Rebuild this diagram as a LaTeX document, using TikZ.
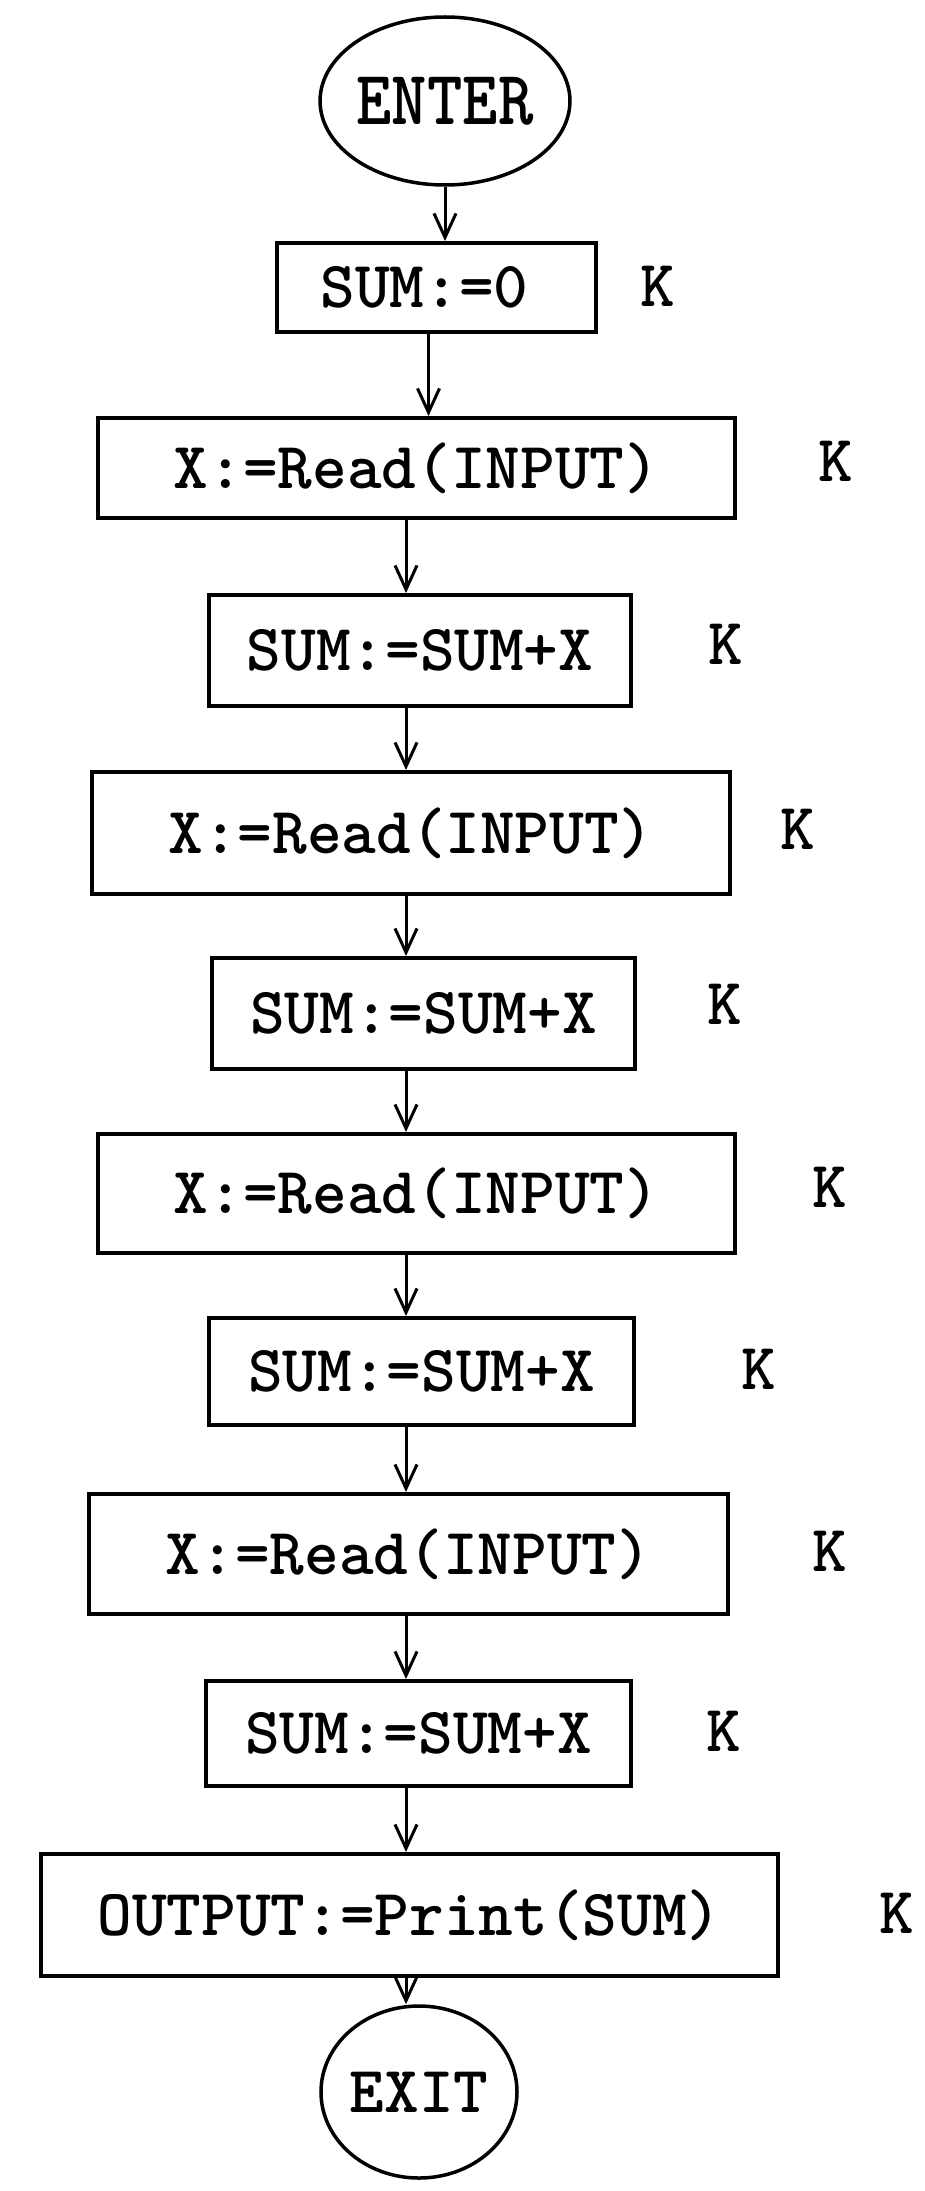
\documentclass[tikz,border=0pt]{standalone}
\usetikzlibrary{arrows.meta,shapes.geometric}
\newcommand\flowfont{\fontsize{66}{70}\selectfont\ttfamily\bfseries}
\tikzset{
  box/.style={draw, line width=4pt, inner sep=0pt, font=\flowfont},
  term/.style={draw, ellipse, line width=3.5pt, inner sep=0pt, font=\flowfont},
  cost/.style={font=\flowfont, inner sep=0pt},
  arr/.style={line width=3pt, -{Straight Barb[length=24pt,width=22pt,line width=3pt]}},
}
\begin{document}
\begin{tikzpicture}[x=1pt,y=-1pt]
  \useasboundingbox (0,0) rectangle (925,2191);

  % terminals
  \node[term, minimum width=208pt, minimum height=168pt] (enter) at (445,101)
       {\scalebox{1.02}[1.17]{ENTER}};
  \node[term, minimum width=168pt, minimum height=172pt] (exit) at (419,2092) {EXIT};

  % statement boxes
  \node[box, minimum width=319pt, minimum height=89pt]  (sum0)   at (436.5,287.5)  {\hspace*{-24pt}SUM:=0};
  \node[box, minimum width=637pt, minimum height=100pt] (read1)  at (416.5,468)    {X:=Read(INPUT)};
  \node[box, minimum width=422pt, minimum height=111pt] (sum1)   at (420,650.5)    {SUM:=SUM+X};
  \node[box, minimum width=638pt, minimum height=122pt] (read2)  at (411,833)      {X:=Read(INPUT)};
  \node[box, minimum width=423pt, minimum height=111pt] (sum2)   at (423.5,1013.5) {SUM:=SUM+X};
  \node[box, minimum width=637pt, minimum height=119pt] (read3)  at (416.5,1193.5) {X:=Read(INPUT)};
  \node[box, minimum width=425pt, minimum height=107pt] (sum3)   at (421.5,1371.5) {SUM:=SUM+X};
  \node[box, minimum width=639pt, minimum height=120pt] (read4)  at (408.5,1554)   {X:=Read(INPUT)};
  \node[box, minimum width=425pt, minimum height=105pt] (sum4)   at (418.5,1733.5) {SUM:=SUM+X};
  \node[box, minimum width=737pt, minimum height=122pt] (output) at (409.5,1915)   {OUTPUT:=Print(SUM)};

  % cost labels
  \node[cost] (k1)  at (658,286)  {K};
  \node[cost] (k2)  at (836,461)  {K};
  \node[cost] (k3)  at (726,644)  {K};
  \node[cost] (k4)  at (798,829)  {K};
  \node[cost] (k5)  at (725,1004) {K};
  \node[cost] (k6)  at (830,1187) {K};
  \node[cost] (k7)  at (759,1369) {K};
  \node[cost] (k8)  at (830,1551) {K};
  \node[cost] (k9)  at (724,1731) {K};
  \node[cost] (k10) at (897,1913) {K};

  % control flow
  \coordinate (spine) at (406,0);
  \draw[arr] (enter.south) -- (enter.south |- sum0.north);
  \draw[arr] ([xshift=-8pt]sum0.south) -- ([xshift=-8pt]sum0.south |- read1.north);
  \draw[arr] (read1.south -| spine) -- (sum1.north -| spine);
  \draw[arr] (sum1.south -| spine) -- (read2.north -| spine);
  \draw[arr] (read2.south -| spine) -- (sum2.north -| spine);
  \draw[arr] (sum2.south -| spine) -- (read3.north -| spine);
  \draw[arr] (read3.south -| spine) -- (sum3.north -| spine);
  \draw[arr] (sum3.south -| spine) -- (read4.north -| spine);
  \draw[arr] (read4.south -| spine) -- (sum4.north -| spine);
  \draw[arr] (sum4.south -| spine) -- (output.north -| spine);
  \draw[arr] (output.south -| spine) -- (exit.north -| spine);
\end{tikzpicture}
\end{document}
